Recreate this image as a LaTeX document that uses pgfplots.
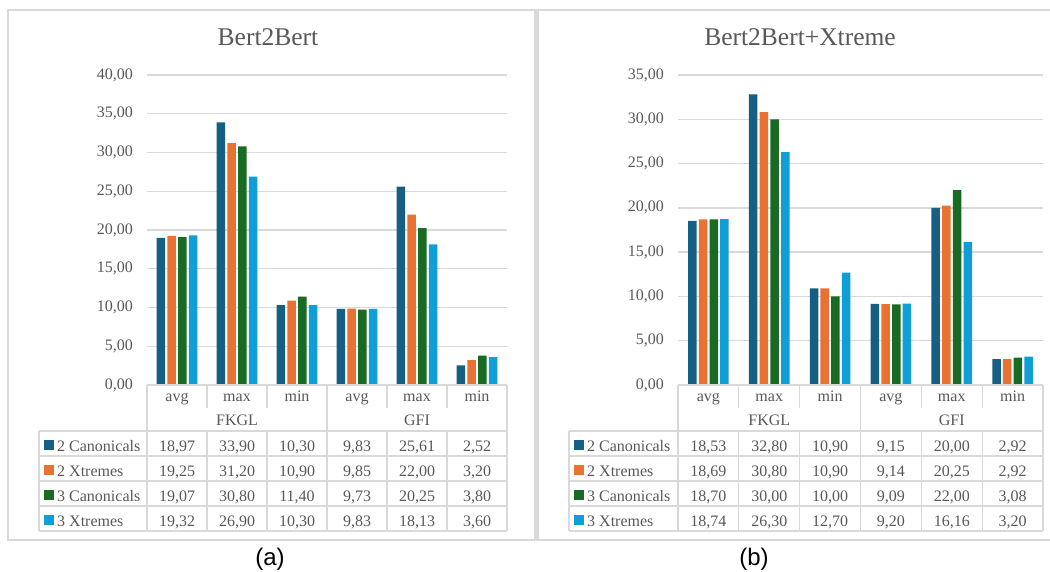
\documentclass[border=0pt]{standalone}
\usepackage{pgfplots}
\usepackage{pgfplotstable}
\pgfplotsset{compat=1.18}
\usepackage{fontspec}
\setmainfont{Liberation Serif}
\newfontfamily\capfont{Liberation Sans}
\definecolor{cA}{HTML}{156082}
\definecolor{cB}{HTML}{E97132}
\definecolor{cC}{HTML}{196B24}
\definecolor{cD}{HTML}{0F9ED5}
\definecolor{gridc}{HTML}{D9D9D9}
\definecolor{txt}{HTML}{595959}

% rows = categories (FKGL avg,max,min; GFI avg,max,min); columns = series
\pgfplotstableread{
x c2 x2 c3 x3
0 18.97 19.25 19.07 19.32
1 33.90 31.20 30.80 26.90
2 10.30 10.90 11.40 10.30
3 9.83 9.85 9.73 9.83
4 25.61 22.00 20.25 18.13
5 2.52 3.20 3.80 3.60
}\dataA
\pgfplotstableread{
x c2 x2 c3 x3
0 18.53 18.69 18.70 18.74
1 32.80 30.80 30.00 26.30
2 10.90 10.90 10.00 12.70
3 9.15 9.14 9.09 9.20
4 20.00 20.25 22.00 16.16
5 2.92 2.92 3.08 3.20
}\dataB

\pgfplotsset{
  panel/.style={
    scale only axis, height=310pt,
    ybar=2.2pt, bar width=8.5pt,
    xmin=-0.5, xmax=5.5, ymin=0,
    xtick=\empty,
    ymajorgrids, grid style={gridc, line width=1.3pt},
    axis line style={draw=none},
    major tick length=0pt,
    tick label style={font=\fontsize{16}{19}\selectfont, text=txt},
    yticklabel style={inner sep=0pt, xshift=-14pt},
    /pgf/number format/fixed,
    /pgf/number format/fixed zerofill,
    /pgf/number format/precision=2,
    /pgf/number format/use comma,
    /pgf/number format/assume math mode=true,
    clip=false,
    anchor=south west,
  }
}

\newcommand\drawtable[4]{%
  \pgfmathsetmacro\xR{#2+6*#3}
  \pgfmathsetmacro\xM{#2+3*#3}
  \begin{scope}[gridc, line width=1.3pt]
    \draw (#2,-385) -- (\xR,-385);
    \foreach \yy in {431,456,481,506,531} \draw (#1,-\yy) -- (\xR,-\yy);
    \draw (#1,-431) -- (#1,-531);
    \draw (#2,-385) -- (#2,-531);
    \draw (\xM,-385) -- (\xM,-531);
    \draw (\xR,-385) -- (\xR,-531);
    \foreach \k in {1,2,4,5} {
      \pgfmathsetmacro\xk{#2+\k*#3}
      \draw (\xk,-385) -- (\xk,-408);
      \draw (\xk,-431) -- (\xk,-531);
    }
  \end{scope}
  \begin{scope}[every node/.style={font=\fontsize{16}{19}\selectfont, text=txt, inner sep=0pt}]
    \foreach \k/\lab in {0/avg,1/max,2/min,3/avg,4/max,5/min} {
      \pgfmathsetmacro\xc{#2+(\k+0.5)*#3}
      \node[anchor=base] at (\xc,-401) {\lab};
    }
    \pgfmathsetmacro\xa{#2+1.5*#3}
    \node[anchor=base] at (\xa,-425) {FKGL};
    \pgfmathsetmacro\xb{#2+4.5*#3}
    \node[anchor=base] at (\xb,-425) {GFI};
    \foreach \j/\name/\cc in {0/2 Canonicals/cA,1/2 Xtremes/cB,2/3 Canonicals/cC,3/3 Xtremes/cD} {
      \pgfmathsetmacro\yb{-451-25*\j}
      \fill[\cc] (#1+5,\yb+1.5) rectangle ++(10,9.5);
      \node[anchor=base west] at (#1+18,\yb) {\name};
    }
    \foreach \j/\col in {0/c2,1/x2,2/c3,3/x3} {
      \foreach \k in {0,...,5} {
        \pgfplotstablegetelem{\k}{\col}\of#4
        \let\val\pgfplotsretval
        \pgfmathsetmacro\xc{#2+(\k+0.5)*#3}
        \pgfmathsetmacro\yb{-451-25*\j}
        \node[anchor=base] at (\xc,\yb) {\pgfmathprintnumber[fixed,fixed zerofill,precision=2,use comma,assume math mode=true]{\val}};
      }
    }
  \end{scope}
}

\begin{document}
\begin{tikzpicture}[x=1pt,y=1pt]
\useasboundingbox (0,0) rectangle (1050,-571);
\fill[white] (0,0) rectangle (1050,-571);
% panel frames
\draw[gridc, line width=1.5pt] (1050,-10) -- (8,-10) -- (8,-540) -- (1050,-540);
\draw[gridc, line width=5pt] (536.5,-10) -- (536.5,-540);

% left panel
\begin{axis}[panel, at={(147pt,-385pt)}, width=360pt, ymax=40, ytick={0,5,...,40}]
\addplot[fill=cA, draw=none] table[x=x,y=c2]{\dataA};
\addplot[fill=cB, draw=none] table[x=x,y=x2]{\dataA};
\addplot[fill=cC, draw=none] table[x=x,y=c3]{\dataA};
\addplot[fill=cD, draw=none] table[x=x,y=x3]{\dataA};
\end{axis}
\drawtable{39}{147}{60}{\dataA}

% right panel
\begin{axis}[panel, at={(678pt,-385pt)}, width=365pt, ymax=35, ytick={0,5,...,35}]
\addplot[fill=cA, draw=none] table[x=x,y=c2]{\dataB};
\addplot[fill=cB, draw=none] table[x=x,y=x2]{\dataB};
\addplot[fill=cC, draw=none] table[x=x,y=c3]{\dataB};
\addplot[fill=cD, draw=none] table[x=x,y=x3]{\dataB};
\end{axis}
\drawtable{569}{678}{60.8333}{\dataB}

% titles
\node[anchor=base, text=txt, font=\fontsize{25.5}{30}\selectfont] at (268,-45) {Bert2Bert};
\node[anchor=base, text=txt, font=\fontsize{25.5}{30}\selectfont] at (800,-45) {Bert2Bert+Xtreme};
% captions
\node[anchor=base, font=\capfont\fontsize{24}{28}\selectfont] at (270,-565) {(a)};
\node[anchor=base, font=\capfont\fontsize{24}{28}\selectfont] at (754,-565) {(b)};
\end{tikzpicture}
\end{document}
